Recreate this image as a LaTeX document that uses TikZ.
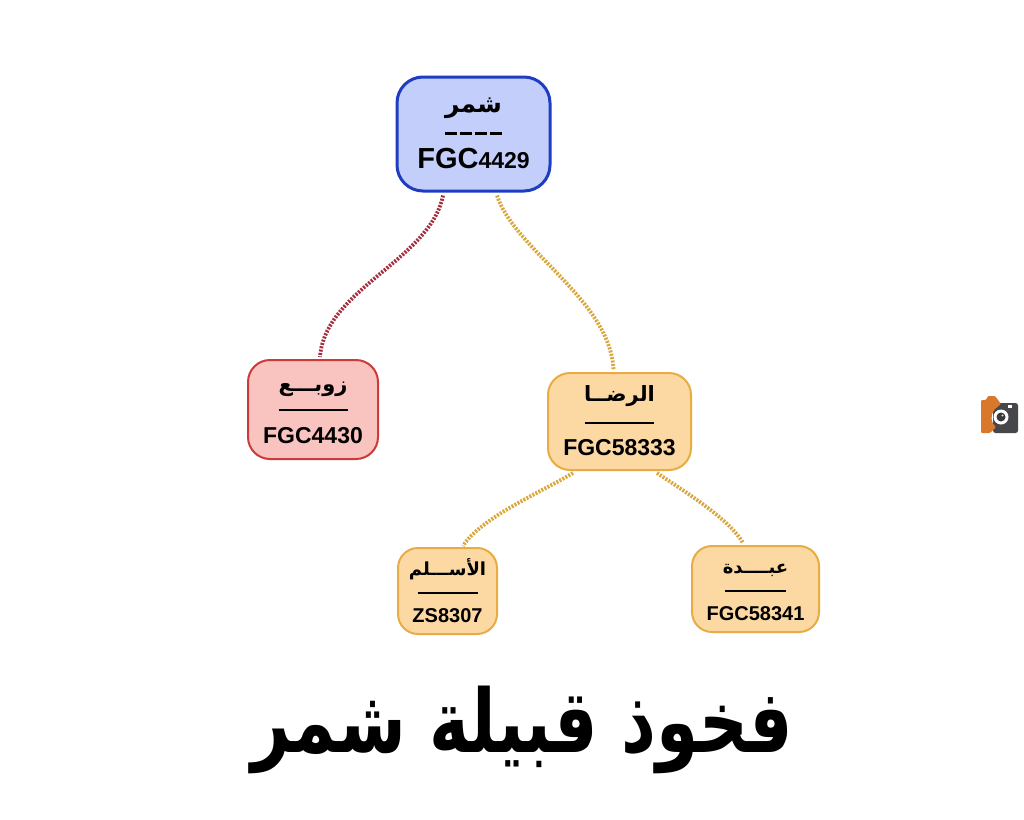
\documentclass[tikz,border=0pt]{standalone}
\usepackage{fontspec}
\usepackage{graphicx}
\setmainfont{Liberation Sans}
\newfontfamily\arabicfont[Script=Arabic]{DejaVu Sans}
\TeXXeTstate=1
\usetikzlibrary{calc}
\definecolor{bluefill}{HTML}{C4CEFB}
\definecolor{blueline}{HTML}{1F3DC2}
\definecolor{redfill}{HTML}{F9C3BF}
\definecolor{redline}{HTML}{CC3A3A}
\definecolor{orfill}{HTML}{FCD9A3}
\definecolor{orline}{HTML}{E8AC44}
\definecolor{redlink}{HTML}{A32E3E}
\definecolor{orlink}{HTML}{D9A73A}
\definecolor{logogrey}{HTML}{45474A}
\definecolor{logoorange}{HTML}{D9772B}
\newcommand{\arname}[2]{{\fontsize{#1}{#1}\arabicfont\bfseries\beginR #2\endR}}
\newcommand{\code}[2]{{\fontsize{#1}{#1}\selectfont\bfseries #2}}
\begin{document}
\begin{tikzpicture}[x=1pt,y=-1pt,
  tribebox/.style={draw, align=center, inner sep=0pt, text depth=0pt},
  bluebox/.style={tribebox, fill=bluefill, draw=blueline, line width=3pt, rounded corners=26pt,
     minimum width=153pt, minimum height=114pt},
  redbox/.style={tribebox, fill=redfill, draw=redline, line width=2pt, rounded corners=22pt},
  orbox/.style={tribebox, fill=orfill, draw=orline, line width=2pt, rounded corners=22pt},
  link/.style={line width=3.8pt, dash pattern=on 2pt off 1.4pt},
]
\useasboundingbox (0,0) rectangle (1024,819);
\fill[white] (0,0) rectangle (1024,819);

% nodes
\node[bluebox, text height=68pt, font=\fontsize{20}{28}\selectfont] (shammar) at (473.5,134)
  {\arname{25}{شمر}\\
   \rule[5.5pt]{12pt}{3pt}\hspace{2.7pt}\rule[5.5pt]{12pt}{3pt}\hspace{2.7pt}\rule[5.5pt]{12pt}{3pt}\hspace{2.7pt}\rule[5.5pt]{12pt}{3pt}\\
   \code{29}{FGC}\code{23}{4429}};

\node[redbox, minimum width=130pt, minimum height=99pt, text height=67pt, font=\fontsize{20}{26}\selectfont] (zawba) at (313,409.5)
  {\arname{21}{زوبـــع}\\
   \rule[6pt]{69pt}{2pt}\\
   \code{23}{FGC4430}};

\node[orbox, minimum width=143pt, minimum height=97pt, text height=67pt, font=\fontsize{20}{27}\selectfont] (rida) at (619.5,421.5)
  {\arname{21}{الرضــا}\\
   \rule[4pt]{69pt}{2pt}\\
   \code{23}{FGC58333}};

\node[orbox, rounded corners=20pt, minimum width=99pt, minimum height=86pt, text height=62pt, font=\fontsize{18}{23.5}\selectfont] (aslam) at (447.5,591)
  {\arname{18}{الأســـلم}\\
   \rule[4.5pt]{60pt}{2pt}\\
   \code{20}{ZS8307}};

\node[orbox, rounded corners=20pt, minimum width=127pt, minimum height=86pt, text height=62pt, font=\fontsize{18}{23.5}\selectfont] (ubda) at (755.5,589)
  {\arname{18}{عبــــدة}\\
   \rule[4.5pt]{61pt}{2pt}\\
   \code{20}{FGC58341}};

% connectors
\draw[link, redlink] ($(shammar.south)+(-30.5,3)$) .. controls +(-13,65) and +(5,-68) .. ($(zawba.north)+(7,-2)$);
\draw[link, orlink] ($(shammar.south)+(23.5,3)$) .. controls +(18,55) and +(-3,-70) .. ($(rida.north)+(-6,-2)$);
\draw[link, orlink] ($(rida.south)+(-46.5,2)$) .. controls +(-28,17) and +(17,-28) .. ($(aslam.north)+(15.5,-1)$);
\draw[link, orlink] ($(rida.south)+(37.5,2)$) .. controls +(33,22) and +(-13,-23) .. ($(ubda.north)+(-12.5,-2)$);

% title
\node[anchor=base, inner sep=0pt] (title) at (522,752)
  {\scalebox{0.97}[1.25]{\fontsize{70}{70}\arabicfont\bfseries\beginR فخوذ قبيلة شمر\endR}};

% logo
\fill[logogrey, rounded corners=2.5pt] (993,403) rectangle (1018,433);
\fill[white] (1008,404.5) rectangle (1012,407.5);
\fill[logoorange, rounded corners=1pt] (981,400) -- (986,400) -- (988,396) -- (995,396) -- (1001,404)
  -- (995,409) .. controls (990,415) and (991,423) .. (996,427) -- (990,433) -- (981,433) -- cycle;
\fill[white] (1001,417) circle (7.5pt);
\fill[logogrey!80!black] (1001,417) circle (4.5pt);
\fill[white!70!gray] (1002.5,415.5) circle (1.2pt);
\end{tikzpicture}
\end{document}
